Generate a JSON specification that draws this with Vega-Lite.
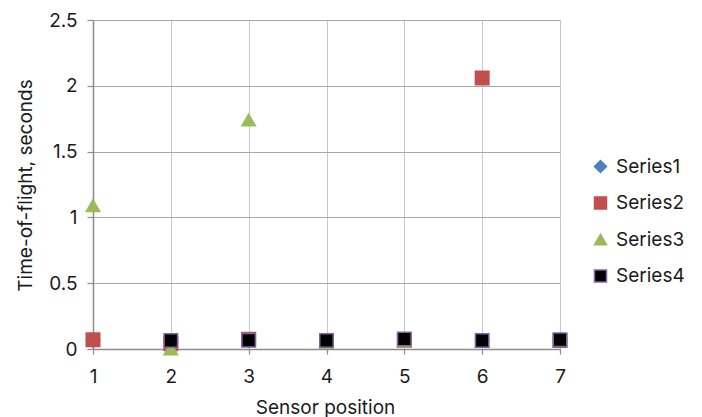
{
  "$schema": "https://vega.github.io/schema/vega-lite/v6.json",
  "width": 467,
  "height": 329,
  "autosize": {"type": "none"},
  "padding": {"left": 93, "top": 20, "right": 142, "bottom": 68},
  "background": "white",
  "config": {
    "view": {"stroke": null},
    "font": "Inter",
    "legend": {
      "orient": "none",
      "legendX": 498,
      "legendY": 137,
      "padding": 0,
      "labelFontSize": 19,
      "labelColor": "#1a1a1a",
      "labelOffset": 6,
      "symbolSize": 144,
      "symbolStrokeWidth": 1.5,
      "rowPadding": 16.5,
      "title": null
    }
  },
  "data": {
    "values": [
      {"series": "Series1", "position": 1, "time": 0.065},
      {"series": "Series1", "position": 2, "time": 0.065},
      {"series": "Series1", "position": 3, "time": 0.065},
      {"series": "Series1", "position": 4, "time": 0.065},
      {"series": "Series1", "position": 5, "time": 0.07},
      {"series": "Series1", "position": 6, "time": 0.065},
      {"series": "Series1", "position": 7, "time": 0.065},
      {"series": "Series2", "position": 1, "time": 0.07},
      {"series": "Series2", "position": 2, "time": 0.04},
      {"series": "Series2", "position": 3, "time": 0.075},
      {"series": "Series2", "position": 4, "time": 0.06},
      {"series": "Series2", "position": 5, "time": 0.065},
      {"series": "Series2", "position": 6, "time": 2.06},
      {"series": "Series2", "position": 7, "time": 0.065},
      {"series": "Series3", "position": 1, "time": 1.09},
      {"series": "Series3", "position": 2, "time": 0.0},
      {"series": "Series3", "position": 3, "time": 1.74},
      {"series": "Series3", "position": 4, "time": 0.05},
      {"series": "Series3", "position": 5, "time": 0.06},
      {"series": "Series3", "position": 6, "time": 0.06},
      {"series": "Series3", "position": 7, "time": 0.065},
      {"series": "Series4", "position": 2, "time": 0.065},
      {"series": "Series4", "position": 3, "time": 0.067},
      {"series": "Series4", "position": 4, "time": 0.065},
      {"series": "Series4", "position": 5, "time": 0.076},
      {"series": "Series4", "position": 6, "time": 0.065},
      {"series": "Series4", "position": 7, "time": 0.07}
    ]
  },
  "mark": {"type": "point", "filled": true, "opacity": 1, "strokeWidth": 1.5, "size": 182},
  "encoding": {
    "x": {
      "field": "position",
      "type": "quantitative",
      "scale": {"domain": [1, 7], "nice": false, "zero": false},
      "axis": {
        "title": "Sensor position",
        "values": [1, 2, 3, 4, 5, 6, 7],
        "format": "d",
        "grid": true,
        "gridColor": "#c8c8c8",
        "gridWidth": 1,
        "domainColor": "#8c8c8c",
        "domainWidth": 1.5,
        "tickColor": "#8c8c8c",
        "tickSize": 5,
        "tickWidth": 1.2,
        "labelFontSize": 19,
        "labelColor": "#1a1a1a",
        "labelBaseline": "alphabetic",
        "labelPadding": 28,
        "labelFlush": false,
        "titleFontSize": 19,
        "titleFontWeight": "normal",
        "titleColor": "#1a1a1a",
        "titleBaseline": "alphabetic",
        "titleX": 232,
        "titleY": 64
      }
    },
    "y": {
      "field": "time",
      "type": "quantitative",
      "scale": {"domain": [0, 2.5], "nice": false},
      "axis": {
        "title": "Time-of-flight, seconds",
        "values": [0, 0.5, 1, 1.5, 2, 2.5],
        "format": ".2~f",
        "grid": true,
        "gridColor": "#a6a6a6",
        "gridWidth": 1.2,
        "domainColor": "#8c8c8c",
        "domainWidth": 1.5,
        "tickColor": "#8c8c8c",
        "tickSize": 6,
        "tickWidth": 1.2,
        "labelFontSize": 19,
        "labelColor": "#1a1a1a",
        "labelPadding": 10,
        "titleFontSize": 19,
        "titleFontWeight": "normal",
        "titleColor": "#1a1a1a",
        "titleAngle": -90,
        "titleBaseline": "alphabetic",
        "titleAlign": "center",
        "titleX": -62,
        "titleY": 165
      }
    },
    "fill": {
      "field": "series",
      "type": "nominal",
      "scale": {"domain": ["Series1", "Series2", "Series3", "Series4"], "range": ["#4F81BD", "#C0504D", "#9BBB59", "#000000"]}
    },
    "stroke": {
      "field": "series",
      "type": "nominal",
      "scale": {"domain": ["Series1", "Series2", "Series3", "Series4"], "range": ["#4F81BD", "#C0504D", "#9BBB59", "#8064A2"]}
    },
    "shape": {
      "field": "series",
      "type": "nominal",
      "scale": {"domain": ["Series1", "Series2", "Series3", "Series4"], "range": ["diamond", "square", "triangle-up", "square"]}
    }
  }
}
